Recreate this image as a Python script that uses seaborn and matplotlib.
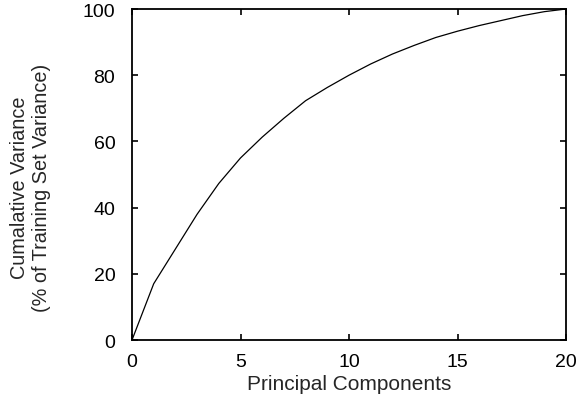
import numpy as np
import pandas as pd
import seaborn as sns
import matplotlib
matplotlib.use('Agg')
import matplotlib.pyplot as plt

# Values
components = [0, 1, 2, 3, 4, 5, 6, 7, 8, 9, 10, 11, 12, 13, 14, 15, 16, 17, 18, 19, 20]
cum_variance = [0, 17, 27.5, 38, 47.3, 55, 61.3, 67, 72.3, 76.3, 80, 83.4, 86.4, 89, 91.4, 93.3, 95, 96.5, 98, 99.2, 100]

df = pd.DataFrame({'Principal Components': components, 'Cumulative': cum_variance})

sns.set_style('ticks')
plt.rcParams['font.family'] = ['Liberation Sans', 'DejaVu Sans']

fig = plt.figure(figsize=(5.81, 4.14), dpi=100)
ax = fig.add_axes([0.2272, 0.1763, 0.747, 0.7995])

sns.lineplot(data=df, x='Principal Components', y='Cumulative', color='black', linewidth=0.9, ax=ax)

ax.set_xlim(0, 20)
ax.set_ylim(0, 100)
ax.set_xticks([0, 5, 10, 15, 20])
ax.set_yticks([0, 20, 40, 60, 80, 100])
ax.set_xlabel('Principal Components', fontsize=15, labelpad=3)
ax.set_ylabel('Cumalative Variance\n(% of Training Set Variance)', fontsize=14.3)
ax.yaxis.set_label_coords(-0.187, 0.462)

for s in ax.spines.values():
    s.set_visible(True)
    s.set_linewidth(1.3)
    s.set_color('black')
ax.tick_params(direction='in', length=4, width=1.2, labelsize=14,
               top=True, right=True, colors='black')
ax.tick_params(axis='x', pad=9)
ax.tick_params(axis='y', pad=12)

fig.savefig('out.png', dpi=100)
